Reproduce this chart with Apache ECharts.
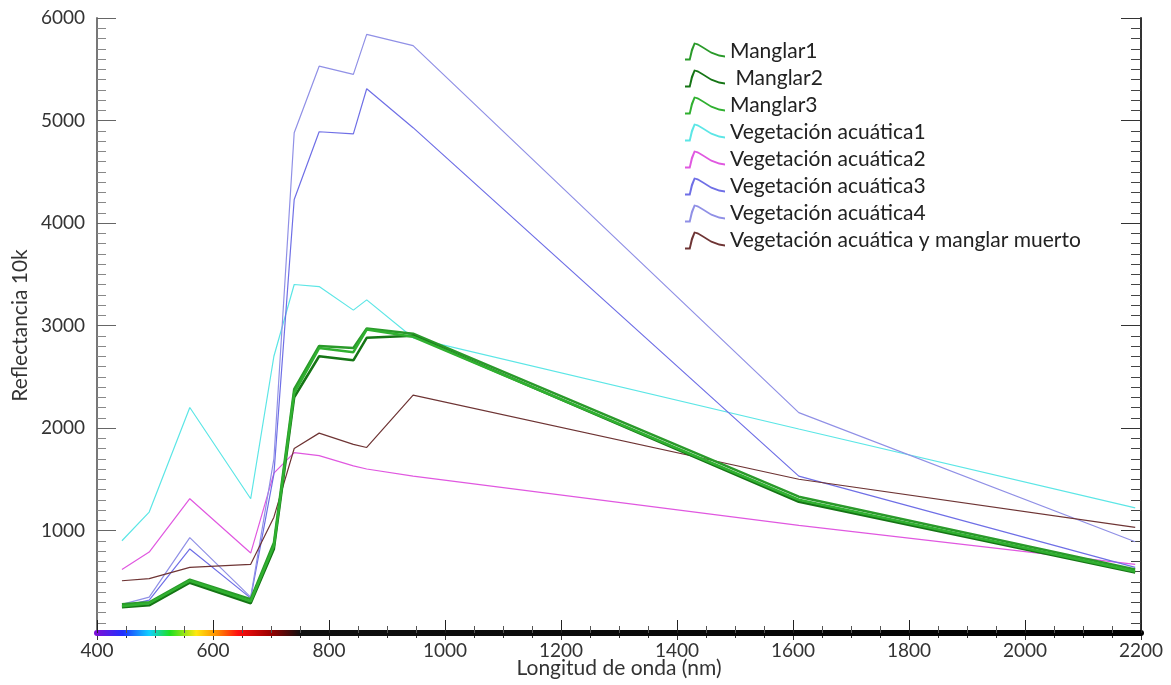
<!DOCTYPE html>
<html lang="es">
<head>
    <meta charset="UTF-8">
    <title>Firmas espectrales</title>
    <script src="https://cdn.jsdelivr.net/npm/echarts@6.0.0/dist/echarts.min.js"></script>
    <style>
        html, body { margin: 0; padding: 0; background: #fff; }
        #main { width: 1171px; height: 685px; }
    </style>
</head>
<body>
    <div id="main"></div>
<script>
    // longitudes de onda (bandas), nm
    var wl = [443, 490, 560, 665, 705, 740, 783, 842, 865, 945, 1610, 2190];

    // reflectancia x10k
    var manglar1 = [280, 300, 520, 330, 880, 2380, 2800, 2780, 2970, 2920, 1330, 620];
    var manglar2 = [250, 270, 490, 290, 820, 2300, 2700, 2660, 2880, 2900, 1280, 590];
    var manglar3 = [260, 290, 510, 310, 850, 2340, 2780, 2740, 2960, 2890, 1300, 600];
    var vegAcu1 = [900, 1180, 2200, 1310, 2700, 3400, 3380, 3150, 3250, 2880, 1990, 1220];
    var vegAcu2 = [620, 790, 1310, 780, 1560, 1760, 1730, 1630, 1600, 1530, 1050, 670];
    var vegAcu3 = [260, 320, 820, 340, 1550, 4230, 4890, 4870, 5310, 4930, 1530, 640];
    var vegAcu4 = [280, 350, 930, 350, 1700, 4880, 5530, 5450, 5840, 5730, 2150, 890];
    var vegMuerto = [510, 530, 640, 670, 1130, 1800, 1950, 1840, 1810, 2320, 1500, 1030];

    var xTicks = [400, 600, 800, 1000, 1200, 1400, 1600, 1800, 2000, 2200];
    var yTicks = [1000, 2000, 3000, 4000, 5000, 6000];

    var FONT = 'Lato';
    // icono de leyenda: pequena firma espectral
    var ICON = 'path://M0,19 L4,19 L6,10 L9,3 L13,4 L18,7 L26,12 L34,15 L40,16 L40,17.8 L34,16.8 L26,13.8 L18,8.8 L13,5.8 L10.2,5 L7.8,11.5 L5.5,20.8 L0,20.8 Z';

    function pares(vals) {
        var out = [];
        for (var i = 0; i < wl.length; i++) out.push([wl[i], vals[i]]);
        return out;
    }

    function sinComas(v) {
        return String(v);
    }

    function serie(nombre, vals, color, ancho, z) {
        return {
            name: nombre,
            type: 'line',
            data: pares(vals),
            showSymbol: false,
            symbol: 'none',
            z: z,
            lineStyle: { color: color, width: ancho },
            itemStyle: { color: color }
        };
    }

    var chart = echarts.init(document.getElementById('main'));

    // barra del espectro visible sobre el eje x (gradiente en pixeles del lienzo)
    var espectro = new echarts.graphic.LinearGradient(97, 0, 1141, 0, [
        { offset: 0.000, color: '#7a10d8' },
        { offset: 0.025, color: '#2030ff' },
        { offset: 0.050, color: '#10d0ff' },
        { offset: 0.070, color: '#20e020' },
        { offset: 0.095, color: '#ffe810' },
        { offset: 0.115, color: '#ff8c00' },
        { offset: 0.135, color: '#ff1010' },
        { offset: 0.165, color: '#a00000' },
        { offset: 0.195, color: '#101010' },
        { offset: 1.000, color: '#000000' }
    ], true);

    var option = {
        animation: false,
        backgroundColor: '#fff',
        grid: { left: 97, right: 30, top: 18, bottom: 52, outerBoundsMode: 'none' },
        legend: {
            orient: 'vertical',
            left: 680,
            top: 36,
            icon: ICON,
            itemWidth: 40,
            itemHeight: 18,
            itemGap: 6,
            textStyle: { fontFamily: FONT, fontSize: 21, lineHeight: 21, color: '#222' },
            data: ['Manglar1', ' Manglar2', 'Manglar3', 'Vegetación acuática1', 'Vegetación acuática2',
                   'Vegetación acuática3', 'Vegetación acuática4', 'Vegetación acuática y manglar muerto']
        },
        xAxis: [{
            type: 'value',
            position: 'bottom',
            min: xTicks[0],
            max: xTicks[xTicks.length - 1],
            interval: 200,
            name: 'Longitud de onda (nm)',
            nameLocation: 'middle',
            nameGap: 25,
            nameMoveOverlap: false,
            nameTextStyle: { fontFamily: FONT, fontSize: 21, color: '#333' },
            z: 10,
            axisLine: { show: true, onZero: false, lineStyle: { color: espectro, width: 6 } },
            axisTick: { inside: true, length: 13, lineStyle: { color: '#222' } },
            minorTick: { show: true, splitNumber: 4, length: 7, lineStyle: { color: '#555' } },
            axisLabel: { fontFamily: FONT, fontSize: 19, color: '#333', margin: 8, formatter: sinComas },
            splitLine: { show: false }
        }, {
            type: 'value',
            position: 'top',
            min: xTicks[0],
            max: xTicks[xTicks.length - 1],
            interval: 200,
            axisLine: { show: true, lineStyle: { color: '#333', width: 2 } },
            axisTick: { inside: true, length: 7, lineStyle: { color: '#333' } },
            minorTick: { show: true, splitNumber: 4, length: 5, lineStyle: { color: '#333' } },
            axisLabel: { show: false },
            splitLine: { show: false }
        }],
        yAxis: [{
            type: 'value',
            position: 'left',
            min: 0,
            max: yTicks[yTicks.length - 1],
            interval: 1000,
            name: 'Reflectancia 10k',
            nameLocation: 'middle',
            nameGap: 66,
            nameMoveOverlap: false,
            nameTextStyle: { fontFamily: FONT, fontSize: 21, color: '#333' },
            axisLine: { show: true, onZero: false, lineStyle: { color: '#777', width: 2 } },
            axisTick: { inside: true, length: 19, lineStyle: { color: '#666' } },
            minorTick: { show: true, splitNumber: 10, length: 9, lineStyle: { color: '#888' } },
            axisLabel: { fontFamily: FONT, fontSize: 19, color: '#333', margin: 12, showMinLabel: false, formatter: sinComas },
            splitLine: { show: false }
        }, {
            type: 'value',
            position: 'right',
            min: 0,
            max: yTicks[yTicks.length - 1],
            interval: 1000,
            axisLine: { show: true, lineStyle: { color: '#333', width: 2 } },
            axisTick: { inside: true, length: 20, lineStyle: { color: '#333' } },
            minorTick: { show: true, splitNumber: 10, length: 10, lineStyle: { color: '#444' } },
            axisLabel: { show: false },
            splitLine: { show: false }
        }],
        series: [
            serie('Manglar1', manglar1, '#2a9a2a', 2.5, 5),
            serie(' Manglar2', manglar2, '#157515', 2.5, 5),
            serie('Manglar3', manglar3, '#30b030', 2.5, 5),
            serie('Vegetación acuática1', vegAcu1, '#5ce6e6', 1.2, 2),
            serie('Vegetación acuática2', vegAcu2, '#e058e0', 1.2, 2),
            serie('Vegetación acuática3', vegAcu3, '#6f6fe6', 1.2, 2),
            serie('Vegetación acuática4', vegAcu4, '#9090e6', 1.2, 2),
            serie('Vegetación acuática y manglar muerto', vegMuerto, '#6e3434', 1.2, 3)
        ]
    };

    chart.setOption(option);
</script>
</body>
</html>
